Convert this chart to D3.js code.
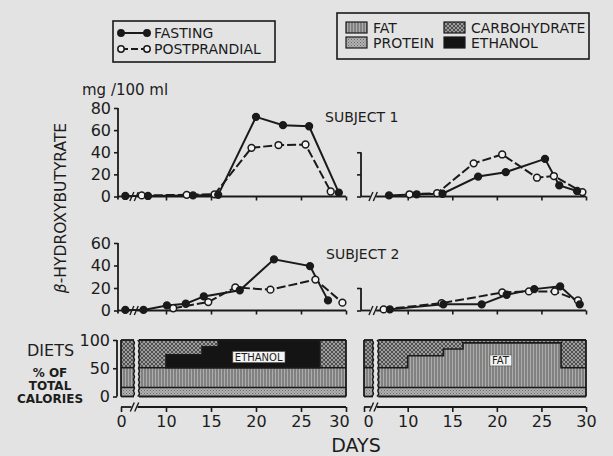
<!DOCTYPE html>
<html><head><meta charset="utf-8">
<script src="https://cdn.jsdelivr.net/npm/d3@7"></script>
<style>
body{margin:0;background:#e3e3e3}
text{font-family:"DejaVu Sans",sans-serif;fill:#1c1c1c}
</style>
</head><body><svg id="c" width="613" height="456"></svg>
<script>
// ---------------- DATA ----------------
const upperXTicks = [10, 15, 20, 25, 30];
const dietXTicks = [0, 10, 15, 20, 25, 30];
const s1YTicks = [0, 20, 40, 60, 80];
const s1YTicksRight = [0, 20, 40];
const s2YTicks = [0, 20, 40, 60];
const s2YTicksRight = [0, 20];
const dietYTicks = [0, 50, 100];

// [day, mg/100 ml]
const s1LeftFasting = [[1,0.5],[8,0.5],[13,1],[15.8,1.5],[20,72],[23,64.5],[25.9,63.5],[29.2,3.5]];
const s1LeftPost    = [[7.3,1],[12.3,1.5],[15.4,2],[19.5,44],[22.5,46.5],[25.5,47],[28.3,4.5]];
const s1RightFasting = [[7.9,1],[11,2],[13.9,2.5],[17.9,18],[21,22],[25.4,34],[27,10],[29,5]];
const s1RightPost    = [[10.2,2],[13.3,3],[17.4,30],[20.6,38],[24.5,17],[26.4,18.5],[29.6,4]];
const s2LeftFasting = [[1,0.5],[7.5,0.5],[10.1,4.5],[12.2,6],[14.2,12.5],[18.2,18],[22,45.5],[26,39.5],[28,9]];
const s2LeftPost    = [[10.8,2],[14.7,7.5],[17.7,20.5],[21.6,18.5],[26.6,27.5],[29.6,7]];
const s2RightFasting = [[8,1],[14,5.5],[18.3,5.5],[21.1,14],[24.2,19],[27.1,21.5],[29.3,5.5]];
const s2RightPost    = [[7.3,1],[13.8,6.5],[20.6,16],[23.6,17],[26.5,17],[29.1,9]];

// diets, % of total calories
const proteinTop = 16;
const baseFatTop = 51;
const baselineDays = [0, 3];
const mainDaysLeft = [7, 30];
const mainDaysRight = [6.7, 30];
const ethanolLeft = [[10,74],[14,88],[15.8,100],[27.1,100]];   // top of ethanol band (stepped)
const fatRight = [[6.7,51],[10,72],[14,84],[16.2,95],[27.2,51],[30,51]]; // top of fat band (stepped)
const ethanolLabelPos = [20.3, 70];
const fatLabelPos = [20.4, 64];

// ---------------- DRAW ----------------
const svg = d3.select('#c');
const ink = '#1a1a1a';
svg.append('rect').attr('width',613).attr('height',456).attr('fill','#e3e3e3');

const defs = svg.append('defs');
// fat: vertical lines
let p = defs.append('pattern').attr('id','fat').attr('width',3).attr('height',3).attr('patternUnits','userSpaceOnUse');
p.append('rect').attr('width',3).attr('height',3).attr('fill','#acacac');
p.append('line').attr('x1',1).attr('x2',1).attr('y1',0).attr('y2',3).attr('stroke','#5e5e5e').attr('stroke-width',1.1);
// protein: stipple
p = defs.append('pattern').attr('id','protein').attr('width',3).attr('height',3).attr('patternUnits','userSpaceOnUse');
p.append('rect').attr('width',3).attr('height',3).attr('fill','#b2b2b2');
p.append('rect').attr('x',0).attr('y',0).attr('width',1).attr('height',1).attr('fill','#666');
p.append('rect').attr('x',1.5).attr('y',1.5).attr('width',1).attr('height',1).attr('fill','#707070');
// carbohydrate: cross-hatch
p = defs.append('pattern').attr('id','carb').attr('width',4).attr('height',4).attr('patternUnits','userSpaceOnUse');
p.append('rect').attr('width',4).attr('height',4).attr('fill','#9c9c9c');
p.append('path').attr('d','M0,4L4,0M-1,1L1,-1M3,5L5,3M0,0L4,4M-1,3L1,5M3,-1L5,1').attr('stroke','#3c3c3c').attr('stroke-width',0.8);
const fills = {fat:'url(#fat)', protein:'url(#protein)', carb:'url(#carb)', ethanol:'#141414'};

const xL = d3.scaleLinear().domain([0,3,6.8,30]).range([121,134,137.2,346]);
const xR = d3.scaleLinear().domain([0,3,6.6,30]).range([364,373,377.4,586]);
const y1 = d3.scaleLinear().domain([0,80]).range([196.5,108]);
const y2 = d3.scaleLinear().domain([0,60]).range([310.5,243]);
const yD = d3.scaleLinear().domain([0,100]).range([396.5,340]);
const axL = 118, axR = 361;

function styleAxis(g, size){
  g.selectAll('.tick line').attr('stroke',ink).attr('stroke-width',1.6);
  g.selectAll('.tick text').attr('font-size',size).attr('fill',ink).style('font-family','"DejaVu Sans",sans-serif');
}
function yAxis(scale, ticks, x, labels, below){
  const ax = d3.axisLeft(scale).tickValues(ticks).tickSize(4).tickSizeOuter(0).tickPadding(3);
  if(!labels) ax.tickFormat('');
  const g = svg.append('g').attr('transform',`translate(${x},0)`).call(ax);
  g.select('.domain').remove();
  styleAxis(g, 16);
  g.append('line').attr('x1',0).attr('x2',0).attr('y1',scale(0)+below).attr('y2',scale(d3.max(ticks)))
    .attr('stroke',ink).attr('stroke-width',1.8);
}
function breakMark(px, py){
  const g = svg.append('g');
  [-2.2, 2.2].forEach(o=>{
    g.append('line').attr('x1',px+o-2).attr('y1',py+4.5).attr('x2',px+o+2).attr('y2',py-4.5)
      .attr('stroke',ink).attr('stroke-width',1.4);
  });
}
function xAxisUpper(x, yb, ax0){
  const g = svg.append('g');
  const b = x(3.1);
  g.append('line').attr('x1',ax0).attr('x2',b-3).attr('y1',yb).attr('y2',yb).attr('stroke',ink).attr('stroke-width',1.8);
  g.append('line').attr('x1',b+3).attr('x2',x(30)).attr('y1',yb).attr('y2',yb).attr('stroke',ink).attr('stroke-width',1.8);
  const a = d3.axisBottom(x).tickValues(upperXTicks).tickSize(4).tickSizeOuter(0).tickFormat('');
  const t = svg.append('g').attr('transform',`translate(0,${yb})`).call(a);
  t.select('.domain').remove();
  styleAxis(t, 16);
  breakMark(b, yb);
}
function series(x, y, data, filled){
  const line = d3.line().x(d=>x(d[0])).y(d=>y(d[1]));
  svg.append('path').attr('d',line(data)).attr('fill','none').attr('stroke',ink)
    .attr('stroke-width',2).attr('stroke-dasharray',filled?null:'9,3');
}
function markers(x, y, data, filled){
  svg.append('g').selectAll('circle').data(data).join('circle')
    .attr('cx',d=>x(d[0])).attr('cy',d=>y(d[1])).attr('r',3.4)
    .attr('fill',filled?ink:'#f2f2f2').attr('stroke',ink).attr('stroke-width',1.5);
}
function panel(x, y, fast, post){
  series(x,y,post,false); series(x,y,fast,true);
  markers(x,y,post,false); markers(x,y,fast,true);
}

// upper panels axes
yAxis(y1, s1YTicks, axL, true, 3);
yAxis(y2, s2YTicks, axL, true, 3);
yAxis(y1, s1YTicksRight, axR, false, 0);
yAxis(y2, s2YTicksRight, axR, false, 0);
xAxisUpper(xL, y1(0), axL);
xAxisUpper(xR, y1(0), axR);
xAxisUpper(xL, y2(0), axL);
xAxisUpper(xR, y2(0), axR);

panel(xL, y1, s1LeftFasting, s1LeftPost);
panel(xR, y1, s1RightFasting, s1RightPost);
panel(xL, y2, s2LeftFasting, s2LeftPost);
panel(xR, y2, s2RightFasting, s2RightPost);

// ---- diets ----
function wavy(px){
  const pts = d3.range(0, 101, 5).map((v,i)=>[px + (i%2?1.3:-1.3), yD(v)]);
  svg.append('path').attr('d', d3.line().curve(d3.curveBasis)(pts)).attr('fill','none')
    .attr('stroke',ink).attr('stroke-width',1.5);
}
function block(x, d0, d1){
  const g = svg.append('g');
  const X0 = x(d0), X1 = x(d1);
  g.append('rect').attr('x',X0).attr('y',yD(100)).attr('width',X1-X0).attr('height',yD(baseFatTop)-yD(100)).attr('fill',fills.carb);
  g.append('rect').attr('x',X0).attr('y',yD(baseFatTop)).attr('width',X1-X0).attr('height',yD(proteinTop)-yD(baseFatTop)).attr('fill',fills.fat);
  g.append('rect').attr('x',X0).attr('y',yD(proteinTop)).attr('width',X1-X0).attr('height',yD(0)-yD(proteinTop)).attr('fill',fills.protein);
}
function outline(x, d0, d1, levels, waveLeft, waveRight){
  const X0 = x(d0), X1 = x(d1);
  const g = svg.append('g').attr('stroke',ink).attr('fill','none');
  g.append('line').attr('x1',X0).attr('x2',X1).attr('y1',yD(100)).attr('y2',yD(100)).attr('stroke-width',1.8);
  g.append('line').attr('x1',X0).attr('x2',X1).attr('y1',yD(0)).attr('y2',yD(0)).attr('stroke-width',1.8);
  levels.forEach(l=> g.append('line').attr('x1',X0).attr('x2',X1).attr('y1',yD(l)).attr('y2',yD(l)).attr('stroke-width',1.6));
  if(waveLeft) wavy(X0); else g.append('line').attr('x1',X0).attr('x2',X0).attr('y1',yD(0)).attr('y2',yD(100)).attr('stroke-width',1.8);
  if(waveRight) wavy(X1); else g.append('line').attr('x1',X1).attr('x2',X1).attr('y1',yD(0)).attr('y2',yD(100)).attr('stroke-width',1.8);
}
// left diet
block(xL, baselineDays[0], baselineDays[1]);
block(xL, mainDaysLeft[0], mainDaysLeft[1]);
const ethArea = d3.area().curve(d3.curveStepAfter).x(d=>xL(d[0])).y0(yD(baseFatTop)).y1(d=>yD(d[1]));
svg.append('path').attr('d',ethArea(ethanolLeft)).attr('fill',fills.ethanol).attr('stroke',ink).attr('stroke-width',1.6);
outline(xL, baselineDays[0], baselineDays[1], [proteinTop, baseFatTop], false, true);
outline(xL, mainDaysLeft[0], mainDaysLeft[1], [proteinTop, baseFatTop], true, false);
// right diet
block(xR, baselineDays[0], baselineDays[1]);
block(xR, mainDaysRight[0], mainDaysRight[1]);
const fatArea = d3.area().curve(d3.curveStepAfter).x(d=>xR(d[0])).y0(yD(proteinTop)).y1(d=>yD(d[1]));
svg.append('path').attr('d',fatArea(fatRight)).attr('fill',fills.fat);
svg.append('path').attr('d',d3.line().curve(d3.curveStepAfter).x(d=>xR(d[0])).y(d=>yD(d[1]))(fatRight))
  .attr('fill','none').attr('stroke',ink).attr('stroke-width',1.6);
outline(xR, baselineDays[0], baselineDays[1], [proteinTop, baseFatTop], false, true);
outline(xR, mainDaysRight[0], mainDaysRight[1], [proteinTop], true, false);

// inner labels
function boxLabel(x, pos, txt){
  const g = svg.append('g');
  const t = g.append('text').attr('x',x(pos[0])).attr('y',yD(pos[1])).attr('dy','0.36em')
    .attr('text-anchor','middle').attr('font-size',10).text(txt);
  const bb = t.node().getBBox();
  g.insert('rect','text').attr('x',bb.x-2).attr('y',bb.y).attr('width',bb.width+4).attr('height',bb.height)
    .attr('fill','#f4f4f4').attr('stroke','#555').attr('stroke-width',0.6);
}
boxLabel(xL, ethanolLabelPos, 'ETHANOL');
boxLabel(xR, fatLabelPos, 'FAT');

// diet y axis
yAxis(yD, dietYTicks, 117, true, 0);

// diet x axes
function dietXAxis(x, side){
  const yb = 407;
  const g = svg.append('g');
  const b = x(3.6);
  g.append('line').attr('x1',x(0)).attr('x2',b-3).attr('y1',yb).attr('y2',yb).attr('stroke',ink).attr('stroke-width',1.8);
  g.append('line').attr('x1',b+3).attr('x2',x(30)).attr('y1',yb).attr('y2',yb).attr('stroke',ink).attr('stroke-width',1.8);
  breakMark(b, yb);
  const a = d3.axisBottom(x).tickValues(dietXTicks).tickSize(5).tickSizeOuter(0).tickPadding(4);
  const t = svg.append('g').attr('transform',`translate(0,${yb})`).call(a);
  t.select('.domain').remove();
  styleAxis(t, 16);
  // keep the adjacent "30" and "0" labels apart, as in the original
  t.selectAll('.tick text').attr('dx', d => (side==='L' && d===30) ? -7 : (side==='R' && d===0) ? 4 : 0);
}
dietXAxis(xL, 'L');
dietXAxis(xR, 'R');

// ---- texts ----
svg.append('text').attr('x',82).attr('y',95).attr('font-size',15).text('mg /100 ml');
svg.append('text').attr('transform','translate(66,208) rotate(-90)').attr('text-anchor','middle')
  .attr('font-size',15.5).html('<tspan font-style="italic">β</tspan>-HYDROXYBUTYRATE');
svg.append('text').attr('x',325).attr('y',122).attr('font-size',14).text('SUBJECT 1');
svg.append('text').attr('x',326).attr('y',259).attr('font-size',14).text('SUBJECT 2');
svg.append('text').attr('x',27).attr('y',356).attr('font-size',16).text('DIETS');
[['% OF',377],['TOTAL',390],['CALORIES',403]].forEach(d=>
  svg.append('text').attr('x',50).attr('y',d[1]).attr('text-anchor','middle').attr('font-size',12).attr('font-weight','bold').text(d[0]));
svg.append('text').attr('x',356).attr('y',452).attr('text-anchor','middle').attr('font-size',19).text('DAYS');

// ---- legend 1 ----
svg.append('rect').attr('x',113).attr('y',21).attr('width',162).attr('height',41).attr('fill','none').attr('stroke',ink).attr('stroke-width',1.6);
const lx = d3.scaleLinear().domain([0,1]).range([121,147]);
const ly = d3.scaleLinear().domain([0,1]).range([33,49]);
[[0,true,'FASTING'],[1,false,'POSTPRANDIAL']].forEach(([i,f,txt])=>{
  svg.append('line').attr('x1',lx(0)).attr('x2',lx(1)).attr('y1',ly(i)).attr('y2',ly(i)).attr('stroke',ink).attr('stroke-width',2).attr('stroke-dasharray',f?null:'7,3');
  [0,1].forEach(k=>svg.append('circle').attr('cx',lx(k)).attr('cy',ly(i)).attr('r',3.2).attr('fill',f?ink:'#f2f2f2').attr('stroke',ink).attr('stroke-width',1.5));
  svg.append('text').attr('x',154).attr('y',ly(i)).attr('dy','0.36em').attr('font-size',14).text(txt);
});
// ---- legend 2 ----
svg.append('rect').attr('x',337).attr('y',13).attr('width',252).attr('height',46).attr('fill','none').attr('stroke',ink).attr('stroke-width',1.6);
const legItems = [['FAT','fat',346,22],['PROTEIN','protein',346,37],['CARBOHYDRATE','carb',444,22],['ETHANOL','ethanol',444,37]];
legItems.forEach(([txt,k,x,y])=>{
  svg.append('rect').attr('x',x).attr('y',y).attr('width',21).attr('height',11).attr('fill',fills[k]).attr('stroke',ink).attr('stroke-width',1.2);
  svg.append('text').attr('x',x+27).attr('y',y+5.5).attr('dy','0.36em').attr('font-size',14).text(txt);
});
</script>
</body></html>
